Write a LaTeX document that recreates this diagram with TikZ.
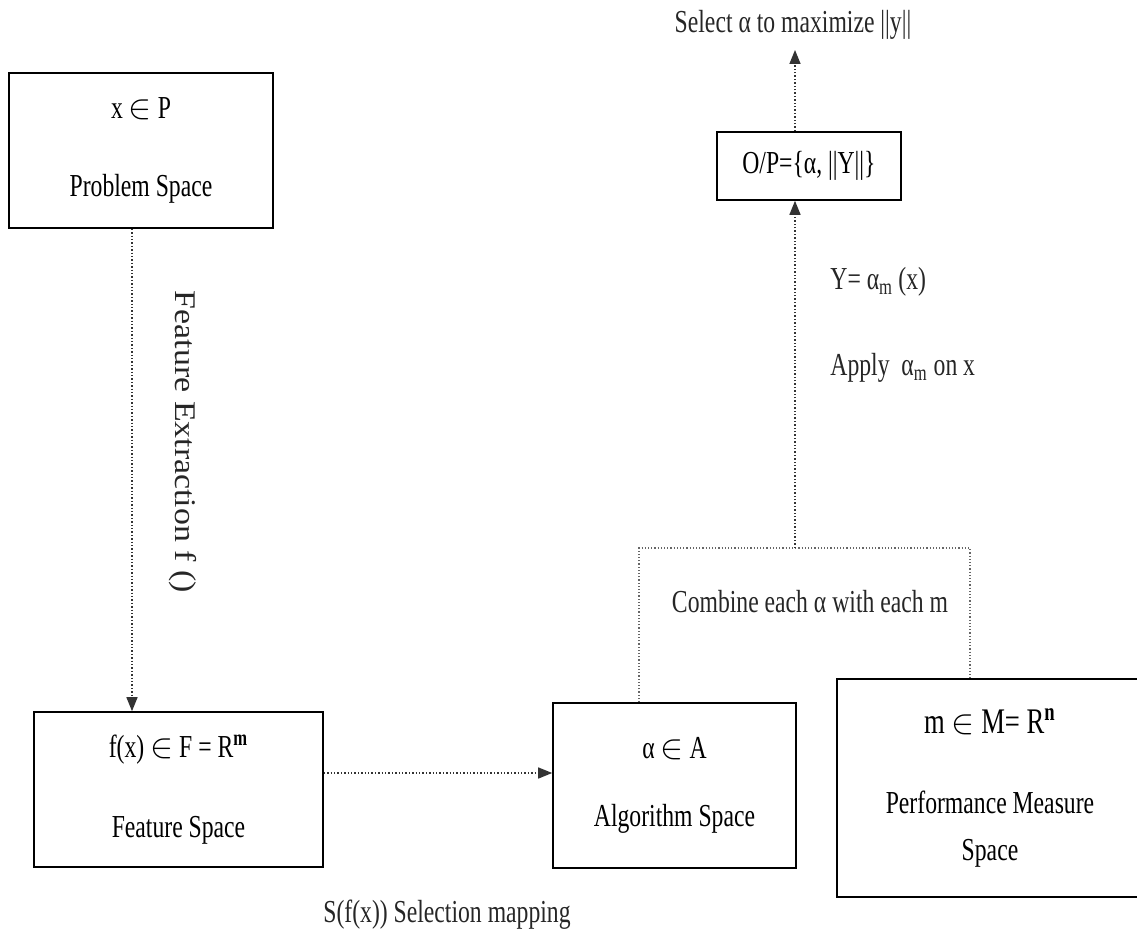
\documentclass[tikz,border=0pt]{standalone}
\usepackage{fontspec}
\setmainfont{Liberation Serif}[FakeStretch=0.74]
\newfontfamily\longserif{Liberation Serif}[FakeStretch=1.13]
\usetikzlibrary{arrows.meta,positioning,calc}

\begin{document}
\begin{tikzpicture}[x=0.5pt,y=-0.5pt,
  spacebox/.style={draw,line width=0.8pt,align=center,inner sep=0pt,font=\fontsize{16}{19}\selectfont},
  lbl/.style={font=\fontsize{16}{19}\selectfont,inner sep=0pt,black!85},
  flow/.style={densely dotted,line width=0.7pt,black!80,-{Triangle[length=7pt,width=5.5pt]}},
  link/.style={densely dotted,line width=0.6pt,black!60}]
  \useasboundingbox (0,0) rectangle (1137,932);
  % the five spaces
  \node[spacebox,minimum width=132pt,minimum height=77.5pt] (prob) at (141,150.5) {x $\in$ P\\[20pt]Problem Space};
  \node[spacebox,minimum width=144.5pt,minimum height=77.5pt] (feat) at (178.5,789.5) {f(x) $\in$ F = R\textsuperscript{\textbf{m}}\\[21pt]Feature Space};
  \node[spacebox,minimum width=121.5pt,minimum height=82.5pt] (algo) at (674.5,785.5) {α $\in$ A\\[15pt]Algorithm Space};
  \node[spacebox,minimum width=153pt,minimum height=109pt] (perf) at (990,788) {{\fontsize{18}{21}\selectfont m $\in$ M= R\textsuperscript{\textbf{n}}}\\[21pt]Performance Measure\\[4.5pt]Space};
  \node[spacebox,minimum width=92pt,minimum height=34pt] (op) at (809,166) {O/P=\{α, ||Y||\}};
  % labels
  \node[lbl] (sel) at (793,25) {Select α to maximize ||y||};
  \node[lbl,anchor=west] (yeq) at (830,282) {Y= α\textsubscript{m}\,(x)};
  \node[lbl,anchor=west] (apply) at (830,368) {Apply\ \ α\textsubscript{m} on x};
  \node[lbl] (comb) at (810,602) {Combine each α with each m};
  \node[lbl] (smap) at (447,915) {S(f(x)) Selection mapping};
  \node[lbl,rotate=-90,font={\longserif\fontsize{15}{18}\selectfont}] (fext) at (183,442) {Feature Extraction f ()};
  % connectors
  \coordinate (fe) at (132,0);
  \draw[flow] (fe |- prob.south) -- (fe |- feat.north);
  \draw[flow] ([yshift=8.25pt]feat.east) -- ([yshift=8.25pt]feat.east -| algo.west);
  \coordinate (cl) at (639,548);
  \coordinate (cr) at (970,548);
  \coordinate (ctop) at (795,548);
  \draw[link] (cl |- algo.north) -- (cl) -- (cr) -- (cr |- perf.north);
  \draw[flow] (ctop) -- (ctop |- op.south);
  \draw[flow,shorten >=5pt] (ctop |- op.north) -- (ctop |- sel.south);
\end{tikzpicture}
\end{document}
